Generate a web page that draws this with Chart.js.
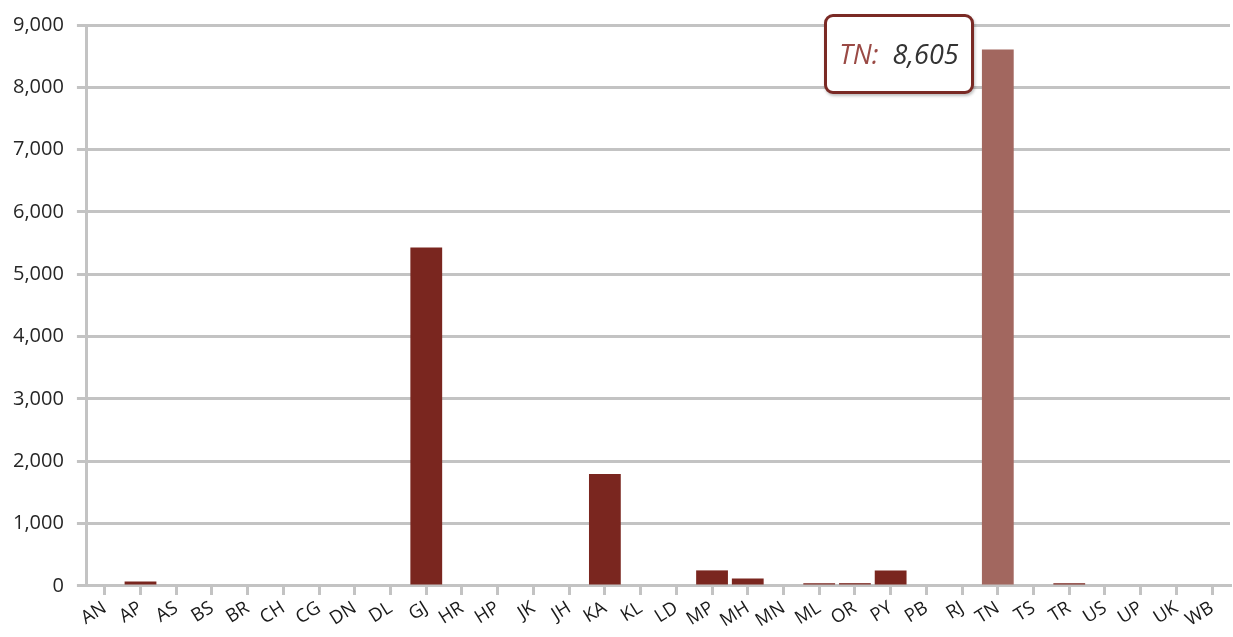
<!DOCTYPE html>
<html>
<head>
<meta charset="utf-8">
<script src="https://cdn.jsdelivr.net/npm/chart.js@4/dist/chart.umd.min.js"></script>
<style>
  html, body { margin: 0; padding: 0; background: #ffffff; }
  #wrap { position: relative; width: 1233px; height: 637px; }
  #tip {
    position: absolute; box-sizing: border-box;
    background: #ffffff; border: 3px solid #7a2a25; border-radius: 9px;
    box-shadow: 1px 2px 3px rgba(0,0,0,0.25);
    font-family: "Open Sans", sans-serif; font-style: italic; font-size: 27px;
    white-space: nowrap; display: flex; align-items: center; justify-content: center;
    pointer-events: none;
  }
  #tip .k { color: #9a4a45; margin-right: 14px; }
  #tip .v { color: #333333; }
</style>
</head>
<body>
<div id="wrap"><canvas id="c"></canvas><div id="tip"></div></div>
<script>
const categories = ["AN","AP","AS","BS","BR","CH","CG","DN","DL","GJ","HR","HP","JK","JH","KA","KL","LD","MP","MH","MN","ML","OR","PY","PB","RJ","TN","TS","TR","US","UP","UK","WB"];
const values = [0,70,0,0,0,0,0,0,0,5430,0,0,0,0,1795,0,0,250,120,0,45,45,250,0,0,8605,0,45,0,0,0,0];
const yTicks = [0,1000,2000,3000,4000,5000,6000,7000,8000,9000];
const highlightedCategory = "TN";

const barColor = "#7a261f";
const hoverColor = "#a2675f";
const gridColor = "#c3c3c3";

const tipEl = document.getElementById('tip');

function externalTip(context) {
  const tt = context.tooltip;
  if (!tt || tt.opacity === 0 || !tt.dataPoints || !tt.dataPoints.length) { tipEl.style.display = 'none'; return; }
  const dp = tt.dataPoints[0];
  const el = dp.element;
  const label = dp.label;
  const val = dp.raw.toLocaleString('en-US');
  tipEl.innerHTML = '<span class="k">' + label + ':</span><span class="v">' + val + '</span>';
  const w = 150, h = 80;
  tipEl.style.display = 'flex';
  tipEl.style.width = w + 'px';
  tipEl.style.height = h + 'px';
  tipEl.style.left = (el.x - el.width / 2 - 8 - w) + 'px';
  tipEl.style.top = (el.y - h / 2 + 4) + 'px';
}

const chart = new Chart(document.getElementById('c'), {
  type: 'bar',
  data: {
    labels: categories,
    datasets: [{
      data: values,
      backgroundColor: barColor,
      hoverBackgroundColor: hoverColor,
      borderWidth: 0,
      barPercentage: 0.89,
      categoryPercentage: 1.0
    }]
  },
  options: {
    responsive: true,
    maintainAspectRatio: false,
    animation: false,
    locale: 'en-US',
    events: [],
    layout: { padding: { left: 0, right: 3, top: 10, bottom: 3 } },
    plugins: {
      legend: { display: false },
      tooltip: { enabled: false, external: externalTip }
    },
    scales: {
      x: {
        grid: {
          display: true, offset: false, drawOnChartArea: false, drawTicks: true,
          tickLength: 9, color: gridColor, lineWidth: 3
        },
        border: { display: true, color: gridColor, width: 3 },
        ticks: {
          autoSkip: false, maxRotation: 32, minRotation: 32, padding: 2,
          color: '#1a1a1a', font: { family: 'Open Sans', size: 18.5 }
        }
      },
      y: {
        min: 0, max: 9000,
        afterBuildTicks: (axis) => { axis.ticks = yTicks.map(v => ({ value: v })); },
        grid: { color: gridColor, lineWidth: 3, tickLength: 10, drawTicks: true },
        border: { display: true, color: gridColor, width: 3 },
        ticks: {
          padding: 13, color: '#262626', font: { family: 'Open Sans', size: 20 },
          callback: (v) => Number(v).toLocaleString('en-US')
        }
      }
    }
  }
});

const hi = categories.indexOf(highlightedCategory);
const active = [{ datasetIndex: 0, index: hi }];
chart.setActiveElements(active);
chart.tooltip.setActiveElements(active, { x: 0, y: 0 });
chart.update();
</script>
</body>
</html>
